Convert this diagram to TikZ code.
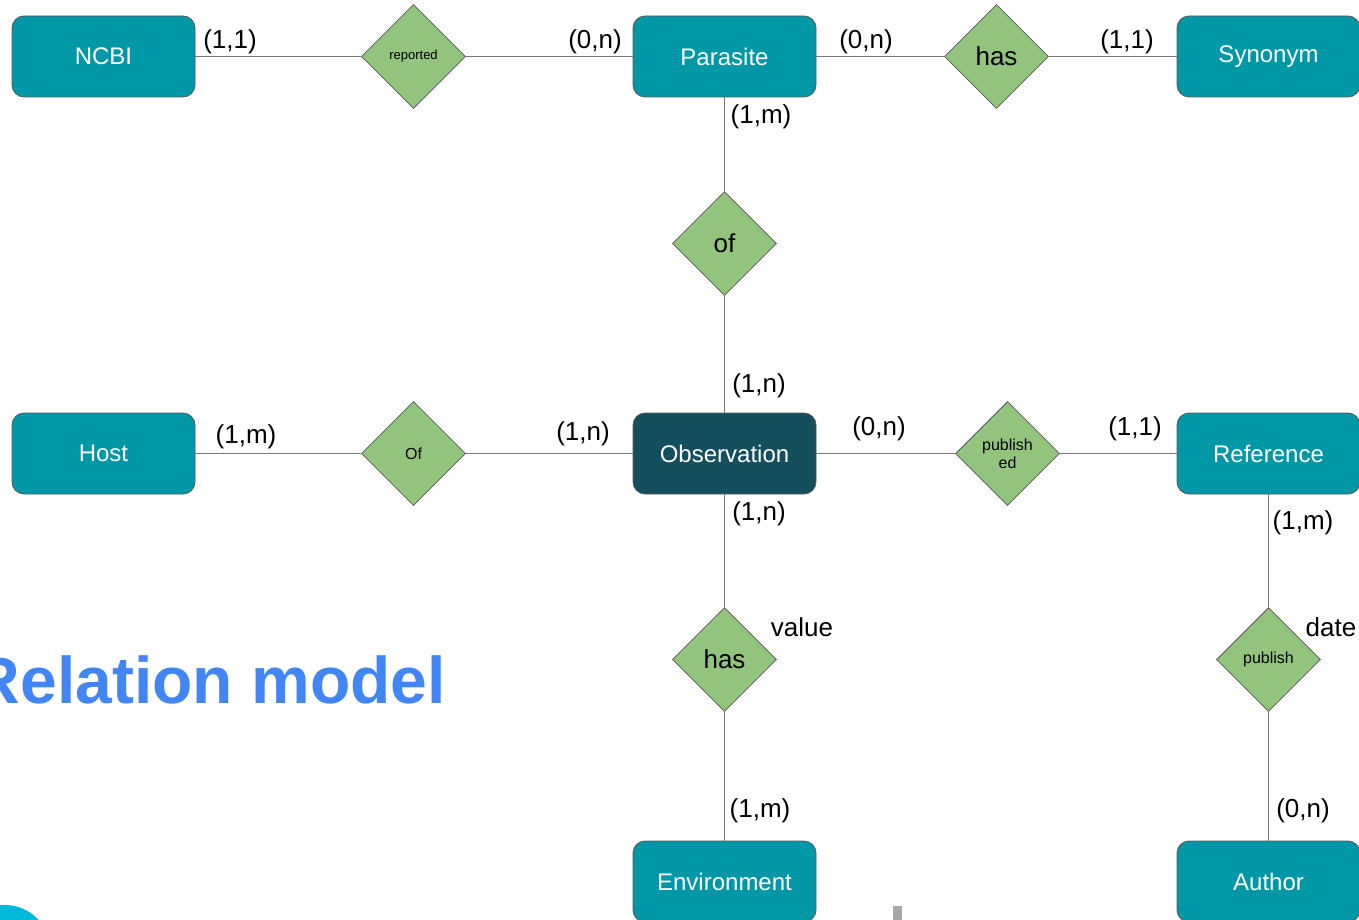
\documentclass[tikz,border=0pt]{standalone}
\usepackage{fontspec}
\setmainfont{Liberation Sans}
\usetikzlibrary{shapes.geometric}

\definecolor{entityteal}{HTML}{0097A7}
\definecolor{obsdark}{HTML}{134F5C}
\definecolor{relgreen}{HTML}{93C47D}
\definecolor{edgegray}{HTML}{595959}
\definecolor{titleblue}{HTML}{4285F4}
\definecolor{dotcyan}{HTML}{00B8D9}

\begin{document}
\begin{tikzpicture}[
            x=0.5pt, y=-0.5pt,
            entity/.style={draw=edgegray, fill=entityteal, rounded corners=6pt,
                minimum width=91.5pt, minimum height=40.5pt, text=white,
                font=\fontsize{12}{14}\selectfont},
            relation/.style={draw=edgegray, fill=relgreen, diamond, aspect=1,
                inner sep=0pt, minimum width=52pt, minimum height=52pt,
                font=\fontsize{13}{15}\selectfont},
            card/.style={font=\fontsize{13}{15}\selectfont},
            link/.style={draw=edgegray!80, line width=0.7pt},
            ]
            \clip (0,0) rectangle (1359,920);
            % entities
            \node[entity] (ncbi) at (103.5,56.5) {NCBI};
            \node[entity] (parasite) at (724.5,56.5) {Parasite};
            \node[entity] (synonym) at (1268.5,56.5) {Synonym};
            \node[entity] (host) at (103.5,453.5) {Host};
            \node[entity, fill=obsdark] (observation) at (724.5,453.5) {Observation};
            \node[entity] (reference) at (1268.5,453.5) {Reference};
            \node[entity] (environment) at (724.5,881.5) {Environment};
            \node[entity] (author) at (1268.5,881.5) {Author};
            % relations
            \node[relation, font=\fontsize{6.5}{7}\selectfont] (reported) at (413.5,56.5) {reported};
            \node[relation] (hassyn) at (996.5,56.5) {has};
            \node[relation] (of) at (724.5,243.5) {of};
            \node[relation, font=\fontsize{8}{8}\selectfont] (ofhost) at (413.5,453.5) {Of};
            \node[relation, font=\fontsize{8}{9}\selectfont, align=center] (published) at (1007.5,453.5) {publish\\ed};
            \node[relation] (hasenv) at (724.5,659.5) {has};
            \node[relation, font=\fontsize{8}{9}\selectfont] (publish) at (1268.5,659.5) {publish};
            % connectors
            \draw[link] (ncbi) -- (reported);
            \draw[link] (reported) -- (parasite);
            \draw[link] (parasite) -- (hassyn);
            \draw[link] (hassyn) -- (synonym);
            \draw[link] (parasite) -- (of);
            \draw[link] (of) -- (observation);
            \draw[link] (host) -- (ofhost);
            \draw[link] (ofhost) -- (observation);
            \draw[link] (observation) -- (published);
            \draw[link] (published) -- (reference);
            \draw[link] (observation) -- (hasenv);
            \draw[link] (hasenv) -- (environment);
            \draw[link] (reference) -- (publish);
            \draw[link] (publish) -- (author);
            % cardinalities
            \node[card] (c1) at (230,42) {(1,1)};
            \node[card] (c2) at (595,42) {(0,n)};
            \node[card] (c3) at (866,42) {(0,n)};
            \node[card] (c4) at (1127,42) {(1,1)};
            \node[card] (c5) at (761,117) {(1,m)};
            \node[card] (c6) at (759,386) {(1,n)};
            \node[card] (c7) at (246,437) {(1,m)};
            \node[card] (c8) at (583,434) {(1,n)};
            \node[card] (c9) at (879,429) {(0,n)};
            \node[card] (c10) at (1135,429) {(1,1)};
            \node[card] (c11) at (759,514) {(1,n)};
            \node[card] (c12) at (1303,523) {(1,m)};
            \node[card] (c13) at (760,811) {(1,m)};
            \node[card] (c14) at (1303,811) {(0,n)};
            \node[card] (value) at (802,627) {value};
            \node[card] (date) at (1331,627) {date};
            % title and page marks
            \node[anchor=east, text=titleblue, font=\fontsize{33}{36}\bfseries\selectfont] (title) at (453,680) {Relation model};
            \fill[dotcyan] (5,950) circle (45);
            \fill[gray!70] (893,906) rectangle (902,920);
\end{tikzpicture}
\end{document}
